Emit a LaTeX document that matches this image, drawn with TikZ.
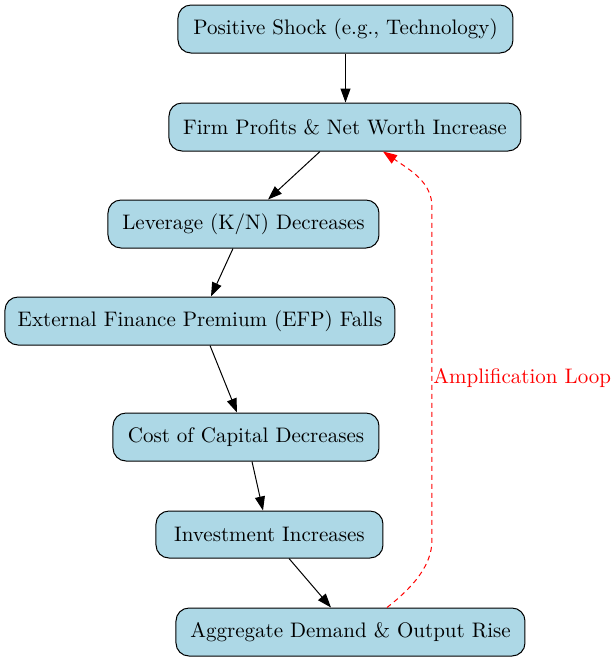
\documentclass[tikz,border=0pt]{standalone}
\usetikzlibrary{arrows.meta}
\definecolor{boxfill}{HTML}{ADD8E6}
\begin{document}
\begin{tikzpicture}[x=0.5pt,y=-0.5pt,
  box/.style={draw=black, line width=0.5pt, fill=boxfill, rounded corners=6.5pt,
    minimum height=24pt, inner sep=0pt, font=\fontsize{10.5}{12.6}\selectfont},
  flow/.style={-{Triangle[length=7pt,width=5pt]}, line width=0.5pt},
  loopline/.style={-{Triangle[length=7pt,width=5pt]}, line width=0.5pt, red, dash pattern=on 2.5pt off 2pt},
  looplabel/.style={text=red, anchor=west, inner sep=0pt, font=\fontsize{10.5}{12.6}\selectfont}]
\useasboundingbox (0,0) rectangle (615,661);
\node[box, minimum width=167.5pt] (n1) at (345.5,29) {Positive Shock (e.g., Technology)};
\node[box, minimum width=176pt] (n2) at (345,127) {Firm Profits \& Net Worth Increase};
\node[box, minimum width=135.5pt] (n3) at (243.5,224) {Leverage (K/N) Decreases};
\node[box, minimum width=195pt] (n4) at (200,321) {External Finance Premium (EFP) Falls};
\node[box, minimum width=133pt] (n5) at (246,437) {Cost of Capital Decreases};
\node[box, minimum width=113.5pt, minimum height=23.5pt] (n6) at (269.5,534.5) {Investment Increases};
\node[box, minimum width=174.5pt] (n7) at (350.5,632) {Aggregate Demand \& Output Rise};
\draw[flow] (n1.south) -- (n1.south |- n2.north);
\draw[flow] ([xshift=-12.5pt]n2.south) -- ([xshift=12.25pt]n3.north);
\draw[flow] ([xshift=-5.25pt]n3.south) -- ([xshift=5.5pt]n4.north);
\draw[flow] ([xshift=5pt]n4.south) -- ([xshift=-4.5pt]n5.north);
\draw[flow] ([xshift=3pt]n5.south) -- ([xshift=-3.25pt]n6.north);
\draw[flow] ([xshift=9.75pt]n6.south) -- ([xshift=-9.75pt]n7.north);
\coordinate (lb) at (432,540);
\coordinate (lt) at (432,207);
\draw[loopline] ([xshift=18.25pt]n7.north) .. controls (412,588) and (432,566) .. (lb) -- (lt) .. controls (432,182) and (410,170) .. ([xshift=19pt]n2.south);
\node[looplabel] (lab) at (433,378) {Amplification Loop};
\end{tikzpicture}
\end{document}
